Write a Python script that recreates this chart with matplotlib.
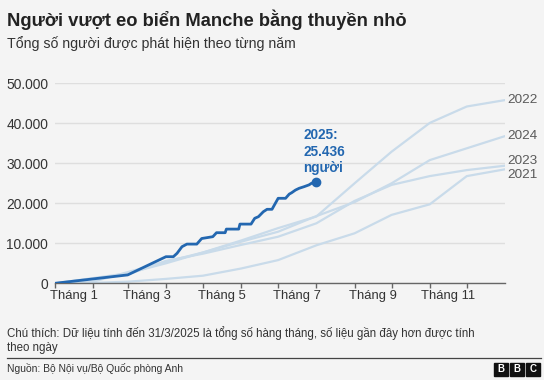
"""Small boat crossings of the Channel, cumulative by year (BBC style)."""

import matplotlib

matplotlib.use("Agg")
import matplotlib.pyplot as plt
from matplotlib.patches import Rectangle

W, H = 544, 380

# cumulative day count at the end of each month (x = day of year)
MONTH_END_DAYS = [0, 31, 59, 90, 120, 151, 181, 212, 243, 273, 304, 334, 365]
MONTH_LABELS = ["Tháng 1", "Tháng 3", "Tháng 5", "Tháng 7", "Tháng 9", "Tháng 11"]

# monthly cumulative totals, earlier years
Y2021 = [0, 100, 400, 1100, 1900, 3700, 5800, 9500, 12500, 17100, 19750, 26800, 28500]
Y2022 = [0, 1300, 2500, 5000, 7700, 10700, 13800, 16700, 25000, 32900, 40100, 44200, 45800]
Y2023 = [0, 1200, 2200, 5600, 7400, 9600, 11650, 15000, 20600, 24600, 26800, 28300, 29400]
Y2024 = [0, 400, 2800, 5400, 7700, 10400, 12900, 16800, 20300, 25000, 30800, 33750, 36800]

# 2025: monthly to 31/3, then daily (points where the running total changes)
DAYS_2025 = [0, 31, 59, 90, 96, 99, 103, 107, 115, 119, 128, 131, 138, 139, 149,
             150, 159, 162, 165, 169, 172, 176, 179, 181, 187, 190, 192, 195, 198,
             202, 206, 208, 212]
Y2025 = [0, 1100, 2100, 6650, 6650, 7500, 9150, 9800, 9800, 11200, 11650, 12650,
         12650, 13550, 13550, 14800, 14800, 16250, 16650, 17900, 18500, 18500,
         20150, 21250, 21250, 22300, 22650, 23300, 23750, 24150, 24600, 25000, 25436]

Y_TICKS = [0, 10000, 20000, 30000, 40000, 50000]

OLD_YEARS = {"2021": Y2021, "2022": Y2022, "2023": Y2023, "2024": Y2024}
# where the year labels sit at the right edge (nudged apart)
LABEL_Y = {"2021": 27000, "2022": 45800, "2023": 30650, "2024": 36800}

PALE = "#c9dbea"
BLUE = "#2367b0"
GREY_TEXT = "#5a5a5a"
BG = "#f4f4f4"

plt.rcParams["font.family"] = ["Liberation Sans", "DejaVu Sans"]

fig = plt.figure(figsize=(W / 100, H / 100), dpi=100, facecolor=BG)


def fx(px):
    return px / W


def fy(py):
    return 1 - py / H


ax = fig.add_axes([fx(55), fy(283.3), fx(505) - fx(55), fy(83.3) - fy(283.3)])
ax.set_facecolor(BG)

for year, vals in OLD_YEARS.items():
    ax.plot(MONTH_END_DAYS, vals, color=PALE, lw=1.6, solid_capstyle="round", zorder=2)
    ax.annotate(year, (365, LABEL_Y[year]), xytext=(1.5, 0), textcoords="offset points",
                ha="left", va="center", fontsize=9.7, color=GREY_TEXT,
                annotation_clip=False)

ax.plot(DAYS_2025, Y2025, color=BLUE, lw=2.0, zorder=3, solid_joinstyle="round")
ax.plot(DAYS_2025[-1], Y2025[-1], "o", color=BLUE, ms=6, zorder=4)

ax.set_xlim(0, 365)
ax.set_ylim(0, 50000)

ax.set_yticks(Y_TICKS)
ax.set_yticklabels([f"{v:,}".replace(",", ".") for v in Y_TICKS])
ax.tick_params(axis="y", length=0, pad=5, labelsize=9.9, labelcolor="#333333")
ax.grid(axis="y", color="#dedede", lw=1, zorder=0)

ax.set_xticks(MONTH_END_DAYS[:-1])
ax.set_xticklabels([])
mids = [(MONTH_END_DAYS[i] + MONTH_END_DAYS[i + 1]) / 2 for i in range(0, 12, 2)]
ax.set_xticks(mids, minor=True)
ax.set_xticklabels(MONTH_LABELS, minor=True)
ax.tick_params(axis="x", which="major", length=3.5, width=1, color="#666666")
ax.tick_params(axis="x", which="minor", length=0, pad=5, labelsize=9.4,
               labelcolor="#333333")

for side in ["top", "right", "left"]:
    ax.spines[side].set_visible(False)
ax.spines["bottom"].set_color("#666666")
ax.spines["bottom"].set_linewidth(1)

# annotation for the current year
fig.text(fx(303.5), fy(151.5), "2025:\n25.436\nngười", ha="left", va="center",
         fontsize=9.8, fontweight="bold", color=BLUE, linespacing=1.22)

# titles
fig.text(fx(7), fy(20), "Người vượt eo biển Manche bằng thuyền nhỏ", ha="left",
         va="center", fontsize=13.2, fontweight="bold", color="#222222")
fig.text(fx(7), fy(44), "Tổng số người được phát hiện theo từng năm", ha="left",
         va="center", fontsize=10.2, color="#333333")

# footnote and source
fig.text(fx(7), fy(333), "Chú thích: Dữ liệu tính đến 31/3/2025 là tổng số hàng tháng, "
         "số liệu gần đây hơn được tính", ha="left", va="center", fontsize=8.3,
         color="#333333")
fig.text(fx(7), fy(348), "theo ngày", ha="left", va="center", fontsize=8.3,
         color="#333333")
fig.add_artist(plt.Line2D([fx(7), fx(541)], [fy(357.5), fy(357.5)],
                          transform=fig.transFigure, color="#444444", lw=0.9))
fig.text(fx(7), fy(369), "Nguồn: Bộ Nội vụ/Bộ Quốc phòng Anh", ha="left",
         va="center", fontsize=7.5, color="#333333")

# BBC blocks
for i, letter in enumerate("BBC"):
    x0 = 494 + i * 16
    fig.add_artist(Rectangle((fx(x0), fy(376)), fx(13.5), 13.5 / H,
                             transform=fig.transFigure, color="#111111"))
    fig.text(fx(x0 + 6.75), fy(369.2), letter, ha="center", va="center",
             fontsize=7, fontweight="bold", color="white")

fig.savefig("out.png", dpi=100, facecolor=BG)
